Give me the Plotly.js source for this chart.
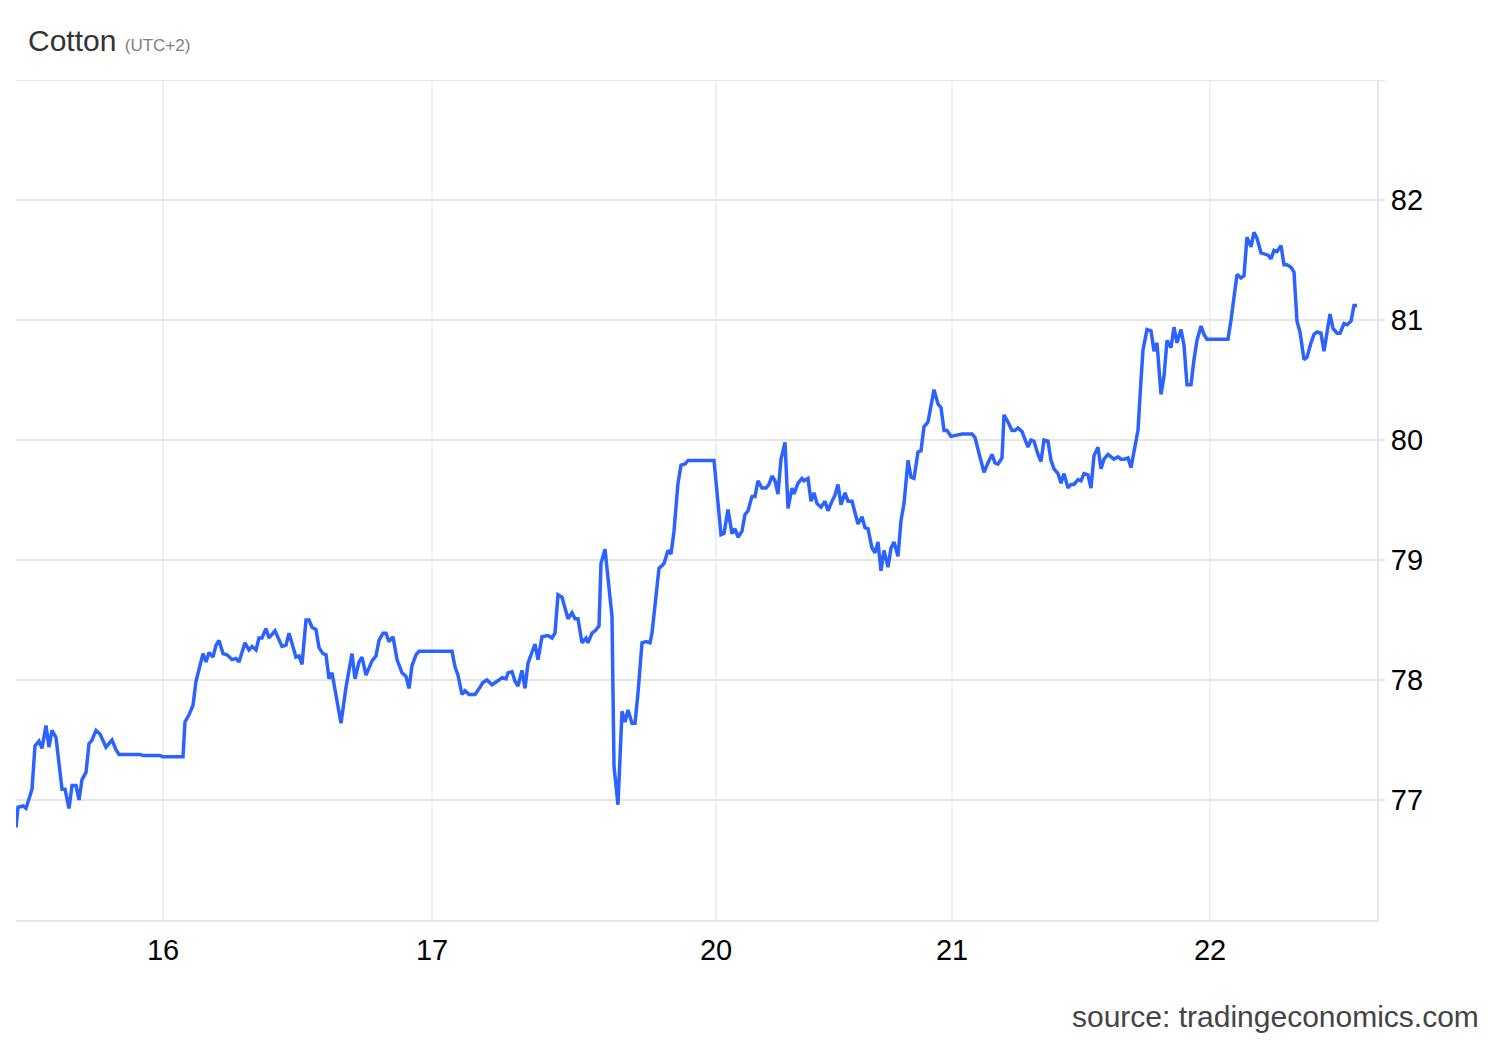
<!DOCTYPE html>
<html>
<head>
<meta charset="utf-8">
<script src="https://cdn.plot.ly/plotly-3.0.1.min.js"></script>
<style>html,body{margin:0;padding:0;background:#fff;}#chart{width:1500px;height:1040px;}</style>
</head>
<body>
<div id="chart"></div>
<script>
// Sample index (intraday trading steps, gaps between sessions removed)
const sampleIndex = [0,2,7,10,16,19,23,26,30,33,36,40,46,49,53,56,60,63,66,70,73,76,80,84,90,96,100,103,124,127,144,147,167,169,173,177,180,187,190,193,197,200,203,207,211,216,220,223,229,233,236,240,243,246,250,253,259,266,270,273,280,283,286,290,293,296,300,303,307,310,313,316,325,330,336,339,343,346,350,356,360,363,367,370,373,377,381,386,390,393,396,400,403,436,439,442,446,449,453,459,464,467,471,476,483,486,490,492,496,499,502,506,509,512,519,522,526,532,536,539,542,546,552,556,559,562,566,570,572,576,579,583,585,589,596,598,602,606,609,612,616,619,622,626,630,634,636,639,643,648,652,655,658,662,665,669,672,698,701,705,708,712,716,719,722,726,729,732,736,739,742,746,750,753,756,759,762,765,769,772,776,778,782,786,788,792,795,798,801,805,809,812,816,819,822,825,829,832,836,839,842,846,849,852,856,859,862,865,868,872,875,878,882,885,888,892,895,898,902,905,908,912,918,922,925,928,931,935,941,946,956,959,963,968,972,976,979,982,986,988,992,996,999,1002,1006,1008,1012,1015,1018,1022,1025,1028,1032,1035,1038,1042,1045,1048,1052,1055,1058,1062,1065,1068,1072,1075,1078,1082,1085,1088,1092,1095,1098,1102,1105,1108,1112,1115,1119,1122,1125,1127,1131,1135,1138,1141,1145,1148,1151,1155,1158,1161,1165,1168,1171,1175,1178,1181,1185,1188,1191,1212,1215,1218,1221,1225,1228,1231,1235,1238,1241,1245,1248,1252,1255,1258,1261,1265,1268,1271,1275,1278,1281,1284,1288,1291,1295,1298,1301,1305,1308,1311,1314,1317,1321,1324,1328,1331,1335,1338,1341];
const price = [76.77,76.94,76.95,76.93,77.09,77.45,77.49,77.43,77.62,77.44,77.58,77.52,77.09,77.09,76.93,77.12,77.12,77.00,77.17,77.23,77.47,77.50,77.58,77.55,77.44,77.50,77.42,77.38,77.38,77.37,77.37,77.36,77.36,77.65,77.71,77.79,77.99,78.22,78.15,78.23,78.19,78.29,78.33,78.22,78.21,78.17,78.18,78.15,78.31,78.25,78.28,78.25,78.35,78.35,78.43,78.35,78.41,78.28,78.29,78.39,78.19,78.20,78.13,78.50,78.50,78.44,78.42,78.27,78.22,78.21,78.01,78.06,77.64,77.94,78.22,78.01,78.15,78.19,78.04,78.16,78.20,78.33,78.39,78.39,78.32,78.36,78.17,78.06,78.03,77.93,78.12,78.21,78.24,78.24,78.11,78.04,77.88,77.91,77.88,77.88,77.94,77.98,78.00,77.96,78.00,78.02,78.01,78.06,78.07,77.99,77.95,78.08,77.93,78.14,78.30,78.17,78.36,78.37,78.35,78.39,78.71,78.69,78.51,78.56,78.51,78.51,78.31,78.35,78.31,78.39,78.41,78.45,78.97,79.09,78.53,77.28,76.96,77.74,77.65,77.75,77.64,77.64,77.89,78.31,78.32,78.31,78.39,78.61,78.93,78.97,79.08,79.05,79.24,79.64,79.79,79.80,79.83,79.83,79.58,79.21,79.22,79.42,79.22,79.26,79.19,79.24,79.38,79.41,79.53,79.53,79.66,79.60,79.60,79.63,79.70,79.66,79.55,79.84,79.98,79.43,79.60,79.55,79.64,79.68,79.66,79.68,79.49,79.56,79.47,79.44,79.49,79.41,79.49,79.54,79.63,79.46,79.56,79.49,79.49,79.38,79.30,79.36,79.27,79.26,79.10,79.06,79.15,78.91,79.08,78.94,79.10,79.15,79.03,79.33,79.47,79.83,79.69,79.68,79.90,79.91,80.11,80.15,80.42,80.30,80.27,80.08,80.08,80.03,80.04,80.05,80.05,80.02,79.89,79.73,79.81,79.88,79.81,79.80,79.85,80.21,80.15,80.08,80.08,80.10,80.07,80.03,79.94,80.00,79.99,79.88,79.82,80.00,79.99,79.83,79.76,79.72,79.64,79.72,79.60,79.63,79.63,79.67,79.66,79.72,79.71,79.60,79.87,79.94,79.76,79.84,79.88,79.86,79.84,79.86,79.84,79.84,79.85,79.77,79.93,80.08,80.50,80.75,80.92,80.91,80.74,80.81,80.38,80.53,80.83,80.77,80.94,80.81,80.92,80.79,80.46,80.46,80.67,80.83,80.95,80.88,80.84,80.84,81.00,81.17,81.38,81.35,81.37,81.69,81.61,81.73,81.68,81.56,81.55,81.54,81.51,81.58,81.57,81.62,81.46,81.46,81.44,81.40,80.99,80.90,80.67,80.69,80.81,80.88,80.90,80.89,80.74,80.90,81.05,80.93,80.89,80.89,80.97,80.96,80.99,81.12,81.12];
const dayTickIndex = [147,416,700,936,1194];
const dayTickLabels = ["16","17","20","21","22"];
const yTicks = [77,78,79,80,81,82];

const trace = {
  x: sampleIndex, y: price, type: 'scatter', mode: 'lines',
  line: {color: '#2c63ff', width: 3.5}, hoverinfo: 'skip'
};
const layout = {
  width: 1500, height: 1040,
  margin: {l: 16, r: 123, t: 80, b: 120},
  paper_bgcolor: '#fff', plot_bgcolor: '#fff',
  showlegend: false,
  font: {family: 'Liberation Sans, Arial, sans-serif', color: '#000'},
  xaxis: {
    range: [0, 1361], tickmode: 'array', tickvals: dayTickIndex, ticktext: dayTickLabels,
    showgrid: true, gridcolor: '#edf0f4', gridwidth: 1.5, zeroline: false,
    showline: true, linecolor: '#e6e6e6', linewidth: 2,
    ticks: '', tickfont: {size: 29, color: '#000'}, ticklabelstandoff: 3
  },
  yaxis: {
    range: [76, 83], side: 'right', tickmode: 'array', tickvals: yTicks,
    showgrid: true, gridcolor: '#e6e6e6', gridwidth: 2, zeroline: false,
    showline: true, linecolor: '#e6e6e6', linewidth: 2, mirror: false,
    ticks: 'outside', ticklen: 6, tickwidth: 2, tickcolor: '#e6e6e6',
    tickfont: {size: 29, color: '#000'}
  },
  shapes: [
    {type: 'line', xref: 'paper', yref: 'y', x0: 0, x1: 1.006, y0: 83, y1: 83, line: {color: '#e6e6e6', width: 2}}
  ],
  annotations: [
    {xref: 'paper', yref: 'paper', x: 0.0073, y: 1.0476, xanchor: 'left', yanchor: 'middle', showarrow: false,
     text: "Cotton <span style='font-size:17px;color:#808080'>(UTC+2)</span>", font: {size: 30, color: '#333'}},
    {xref: 'paper', yref: 'paper', x: 1.0764, y: -0.1143, xanchor: 'right', yanchor: 'middle', showarrow: false,
     text: 'source: tradingeconomics.com', font: {size: 30, color: '#444'}}
  ]
};
Plotly.newPlot('chart', [trace], layout, {displayModeBar: false, staticPlot: true});
</script>
</body>
</html>
